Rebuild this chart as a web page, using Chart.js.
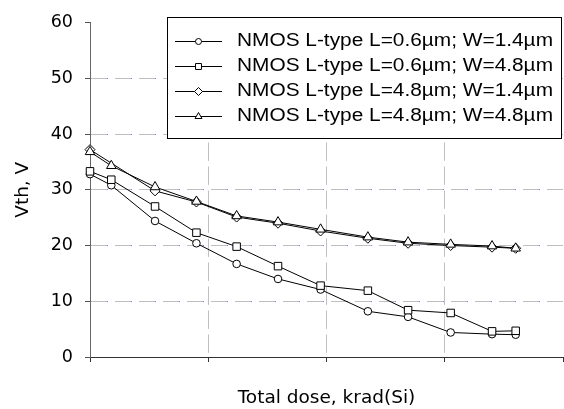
<!DOCTYPE html>
<html>
<head>
<meta charset="utf-8">
<script src="https://cdn.jsdelivr.net/npm/chart.js@4/dist/chart.umd.min.js"></script>
<style>
  body { margin: 0; background: #fff; }
  #wrap { width: 564px; height: 409px; }
</style>
</head>
<body>
<div id="wrap"><canvas id="vth" width="564" height="409"></canvas></div>
<script>
// dose values (axis has no tick labels in the original)
const doses = [0, 18, 55, 90, 124, 159, 195, 235, 269, 305, 340, 360];

const seriesNames = [
  "NMOS L-type L=0.6\u00b5m; W=1.4\u00b5m",
  "NMOS L-type L=0.6\u00b5m; W=4.8\u00b5m",
  "NMOS L-type L=4.8\u00b5m; W=1.4\u00b5m",
  "NMOS L-type L=4.8\u00b5m; W=4.8\u00b5m"
];

const vthL06W14 = [32.8, 30.8, 24.4, 20.4, 16.7, 14.0, 12.1, 8.2, 7.2, 4.4, 4.1, 4.0];
const vthL06W48 = [33.3, 31.8, 27.0, 22.3, 19.8, 16.3, 12.8, 11.9, 8.4, 7.9, 4.6, 4.7];
const vthL48W14 = [37.2, null, 29.8, 27.8, 25.1, 24.0, 22.6, 21.3, 20.4, 20.0, 19.7, 19.5];
const vthL48W48 = [36.8, 34.3, 30.5, 27.9, 25.3, 24.2, 22.9, 21.5, 20.6, 20.2, 19.9, 19.5];

const yTicks = [0, 10, 20, 30, 40, 50, 60];
const xTicks = [0, 100, 200, 300, 400];

// the original uses a wide Arial-like face
const TICK_FONT = { family: "'DejaVu Sans', sans-serif", size: 17.5 };
const TITLE_FONT = { family: "'DejaVu Sans', sans-serif", size: 18.5 };
const LEGEND_FONT = "17.5px 'Liberation Sans', Arial, sans-serif";

const markers = [
  { style: "circle", r: 3.8, lr: 3 },
  { style: "rect", r: 5.3, lr: 4.2 },
  { style: "rectRot", r: 5, lr: 4 },
  { style: "triangle", r: 5.5, lr: 4 }
];

const toPoints = arr => doses.map((x, i) => ({ x: x, y: arr[i] }));

const makeSet = (label, arr, idx, order) => ({
  label: label,
  data: toPoints(arr),
  borderColor: "#000",
  borderWidth: 1,
  pointStyle: markers[idx].style,
  pointRadius: markers[idx].r,
  pointBackgroundColor: "#fff",
  pointBorderColor: "#000",
  pointBorderWidth: 1,
  tension: 0,
  spanGaps: true,
  clip: false,
  order: order
});

// hide grid lines on the frame edges
const innerGrid = (lo, hi, col) => ctx =>
  (ctx.tick && (ctx.tick.value <= lo || ctx.tick.value >= hi)) ? "rgba(0,0,0,0)" : col;

// boxed legend inside the plot, like the original
const legendBox = {
  id: "legendBox",
  afterDatasetsDraw(chart) {
    const ctx = chart.ctx;
    ctx.save();
    ctx.fillStyle = "#fff";
    ctx.strokeStyle = "#000";
    ctx.lineWidth = 1;
    ctx.fillRect(167.5, 17.5, 394, 121);
    ctx.strokeRect(167.5, 17.5, 394, 121);
    ctx.font = LEGEND_FONT;
    ctx.textBaseline = "middle";
    seriesNames.forEach((name, i) => {
      const y = 41 + 25 * i;
      ctx.beginPath();
      ctx.moveTo(175, y + 0.5);
      ctx.lineTo(222, y + 0.5);
      ctx.stroke();
      ctx.fillStyle = "#fff";
      Chart.helpers.drawPoint(ctx, {
        pointStyle: markers[i].style, radius: markers[i].lr, rotation: 0, borderWidth: 1
      }, 198.5, y + 0.5);
      ctx.fillStyle = "#000";
      // stretch text sideways to the original's wide lettering
      const w = ctx.measureText(name).width;
      ctx.save();
      ctx.translate(237, y);
      ctx.scale(316 / w, 1);
      ctx.fillText(name, 0, 0);
      ctx.restore();
    });
    ctx.restore();
  }
};

new Chart(document.getElementById("vth"), {
  type: "line",
  data: {
    datasets: [
      makeSet(seriesNames[0], vthL06W14, 0, 4),
      makeSet(seriesNames[1], vthL06W48, 1, 3),
      makeSet(seriesNames[2], vthL48W14, 2, 2),
      makeSet(seriesNames[3], vthL48W48, 3, 1)
    ]
  },
  options: {
    responsive: false,
    animation: false,
    layout: { autoPadding: false, padding: { top: 15, right: 1, left: 0, bottom: 0 } },
    plugins: { legend: { display: false }, tooltip: { enabled: false } },
    scales: {
      x: {
        type: "linear",
        min: xTicks[0],
        max: xTicks[xTicks.length - 1],
        afterBuildTicks: s => { s.ticks = xTicks.map(v => ({ value: v })); },
        ticks: { display: false },
        grid: { color: innerGrid(0, 400, "#c0c0c0"), tickColor: "#333", tickLength: 5 },
        border: { color: "#333", dash: [17, 7] },
        title: {
          display: true, text: "Total dose, krad(Si)", color: "#000", font: TITLE_FONT,
          padding: { top: 0, bottom: 0 }
        },
        afterFit: s => { s.height = 52; }
      },
      x2: {
        type: "linear",
        position: "bottom",
        min: xTicks[0],
        max: xTicks[xTicks.length - 1],
        afterBuildTicks: s => { s.ticks = xTicks.map(v => ({ value: v })); },
        ticks: { display: false },
        grid: { color: innerGrid(0, 400, "#8080ff"), drawTicks: false },
        border: { display: false, dash: [1, 23], dashOffset: 7 },
        afterFit: s => { s.height = 0; }
      },
      y: {
        min: yTicks[0],
        max: yTicks[yTicks.length - 1],
        afterBuildTicks: s => { s.ticks = yTicks.map(v => ({ value: v })); },
        ticks: { color: "#000", font: TICK_FONT, padding: 12 },
        grid: { color: innerGrid(0, 60, "#c0c0c0"), tickColor: "#555", tickLength: 5 },
        border: { color: "#666", dash: [17, 7] },
        title: {
          display: true, text: "Vth, V", color: "#000", font: TITLE_FONT,
          padding: { top: 12, bottom: 0 }
        },
        afterFit: s => { s.width = 90; }
      },
      y2: {
        position: "left",
        min: yTicks[0],
        max: yTicks[yTicks.length - 1],
        afterBuildTicks: s => { s.ticks = yTicks.map(v => ({ value: v })); },
        ticks: { display: false },
        grid: { color: innerGrid(0, 60, "#8080ff"), drawTicks: false },
        border: { display: false, dash: [1, 23], dashOffset: 7 },
        afterFit: s => { s.width = 0; }
      }
    }
  },
  plugins: [legendBox]
});
</script>
</body>
</html>
